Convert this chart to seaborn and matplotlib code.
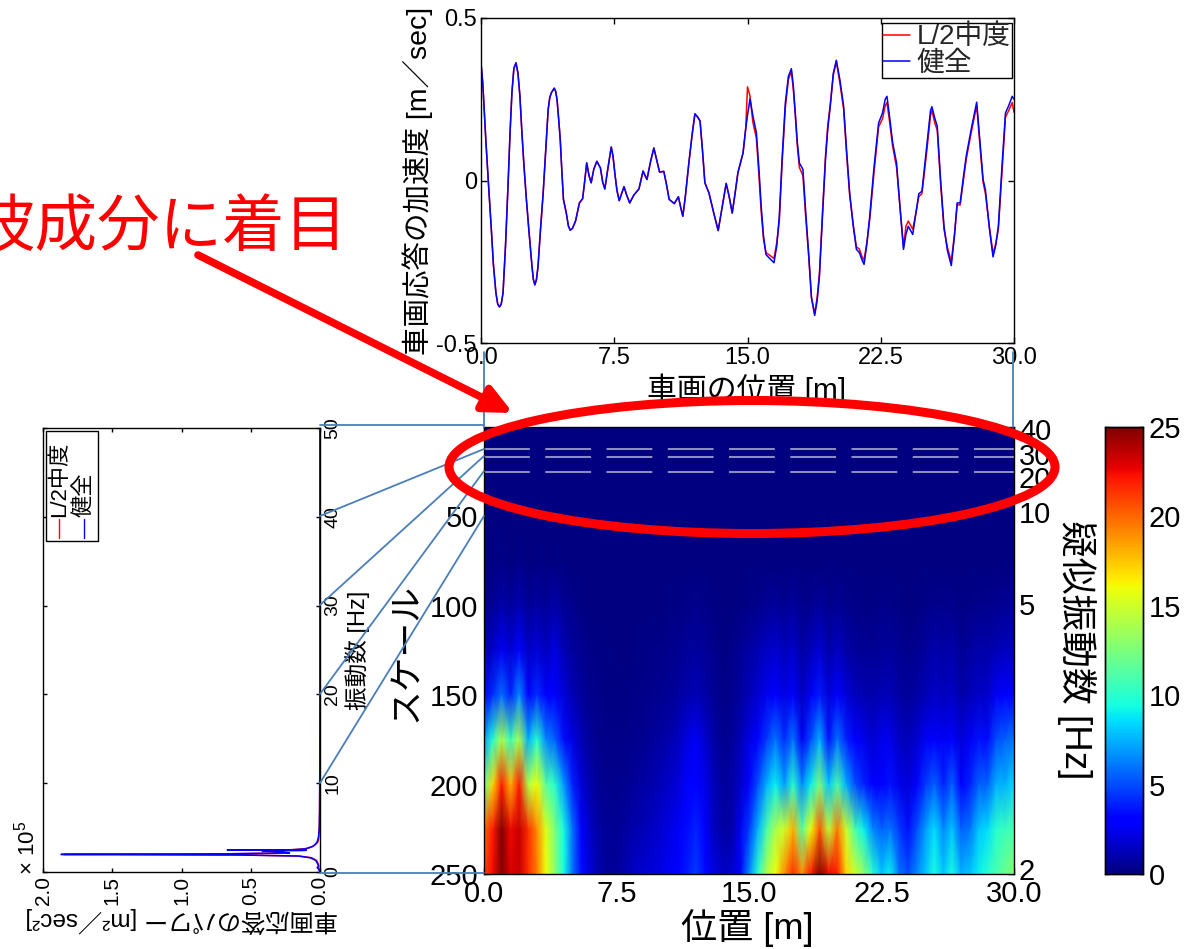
import numpy as np
import pandas as pd
import matplotlib
matplotlib.use('Agg')
import matplotlib.pyplot as plt
import matplotlib.patches as mpatches
from matplotlib.lines import Line2D
from matplotlib.transforms import Affine2D
import seaborn as sns

# acceleration trace, top panel (both cases coincide up to about 15 m)
position = [0, .1, .27, .42, .57, .7, .84, .94, 1.04, 1.14, 1.24, 1.38, 1.52, 1.63, 1.74, 1.85, 1.97, 2.08, 2.19, 2.3,
            2.42, 2.55, 2.69, 2.87, 2.95, 3.03, 3.12, 3.21, 3.35, 3.5, 3.64, 3.78, 3.87, 3.96, 4.12, 4.2, 4.28, 4.37, 4.46, 4.55,
            4.64, 4.8, 4.92, 5.02, 5.15, 5.32, 5.44, 5.54, 5.72, 5.82, 5.95, 6.08, 6.2, 6.35, 6.52, 6.72, 6.85, 6.97, 7.15, 7.33,
            7.43, 7.53, 7.65, 7.78, 7.92, 8.05, 8.2, 8.37, 8.6, 8.89, 9.12, 9.34, 9.55, 9.73, 9.9, 10.05, 10.29, 10.45, 10.59, 10.88,
            11.11, 11.25, 11.36, 11.5, 11.7, 11.88, 12.04, 12.2, 12.33, 12.47, 12.6, 12.83, 13.1, 13.35, 13.55, 13.8, 13.97, 14.14, 14.3, 14.46,
            14.75, 14.9,
            15.0, 15.14, 15.3, 15.5, 15.65, 15.77, 15.9, 16.04, 16.25, 16.49, 16.65, 16.79, 16.95, 17.13, 17.3, 17.47, 17.58, 17.69, 17.8, 17.92,
            18.12, 18.28, 18.44, 18.6, 18.78, 18.92, 19.05, 19.22, 19.39, 19.52, 19.66, 19.83, 20.0, 20.2, 20.41, 20.58, 20.75, 20.95, 21.13, 21.29,
            21.45, 21.56, 21.72, 21.88, 22.12, 22.38, 22.6, 22.75, 22.85, 23.0, 23.17, 23.39, 23.58, 23.78, 23.92, 24.05, 24.3, 24.48, 24.64, 24.82,
            25.1, 25.3, 25.38, 25.55, 25.68, 25.87, 26.06, 26.25, 26.47, 26.65, 26.8, 26.97, 27.15, 27.31, 27.6, 27.9, 28.08, 28.26, 28.39, 28.62,
            28.82, 28.97, 29.12, 29.32, 29.52, 29.7, 29.9, 30]
both_before_15 = [.362, .3, .126, -.01, -.14, -.26, -.346, -.38, -.389, -.38, -.346, -.2, -.017, .14, .27, .345, .362, .33, .26, .15,
                  .044, -.055, -.15, -.264, -.305, -.321, -.305, -.264, -.15, -.038, .09, .218, .255, .27, .284, .275, .249, .19, .126, .03,
                  -.058, -.1, -.14, -.153, -.147, -.125, -.095, -.069, -.056, -.01, .054, .015, -.007, .035, .059, .039, -.005, -.026, .04, .103,
                  .075, .024, -.03, -.062, -.04, -.019, -.045, -.069, -.045, -.026, .029, .003, .06, .1, .06, .026, .028, -.015, -.058, -.071,
                  -.05, -.085, -.11, -.05, .054, .14, .205, .195, .183, .09, -.007, -.038, -.1, -.154, -.09, -.009, -.05, -.1, -.04, .024,
                  .085, .16]
healthy_after_15 = [.2, .251, .2, .147, .03, -.079, -.17, -.228, -.24, -.253, -.2, -.11, .07, .239, .32, .344, .29, .208, .12, .054,
                    .034, -.1, -.223, -.36, -.415, -.37, -.294, -.11, .065, .16, .229, .33, .37, .31, .229, .09, -.038, -.14, -.212, -.221,
                    -.245, -.258, -.195, -.11, .04, .177, .208, .25, .259, .195, .116, .054, -.08, -.212, -.165, -.141, -.166, -.1, -.041, -.033,
                    .11, .215, .227, .19, .167, 0, -.141, -.215, -.262, -.17, -.069, -.069, .01, .075, .16, .241, .12, .003, -.028, -.15,
                    -.235, -.2, -.14, .04, .208, .23, .259, .25]
damaged_after_15 = [.288, .26, .18, .13, .01, -.095, -.18, -.222, -.23, -.24, -.19, -.125, .055, .225, .31, .336, .28, .2, .11, .04,
                    .015, -.115, -.23, -.36, -.41, -.36, -.285, -.1, .075, .17, .235, .325, .365, .3, .22, .08, -.045, -.135, -.205, -.21,
                    -.235, -.245, -.19, -.12, .025, .165, .19, .23, .24, .18, .105, .04, -.08, -.205, -.14, -.125, -.15, -.1, -.05, -.04,
                    .095, .2, .215, .175, .155, -.01, -.15, -.205, -.25, -.165, -.075, -.075, 0, .065, .15, .23, .11, -.005, -.04, -.145,
                    -.225, -.195, -.15, .025, .195, .215, .24, .21]
healthy = both_before_15 + healthy_after_15
damaged = both_before_15 + damaged_after_15

# power spectrum, left panel
freq_hz = [0, .3, .5, .7, 1.0, 1.3, 1.6, 1.8, 1.92, 1.98, 2.04, 2.15, 2.3, 2.4, 2.44, 2.47, 2.5, 2.6, 2.75, 2.9, 3.2, 3.4, 3.7, 4, 5, 7, 10, 20, 30, 40, 50]
power_healthy = [0, .01, .02, .01, .02, .03, .07, .16, .6, 1.87, .7, .22, .3, .42, .1, .67, .2, .1, .08, .05, .03, .02, .015, .01, .005, .003, .002, 0, 0, 0, 0]
power_damaged = [0, .005, .01, .01, .015, .025, .06, .15, .6, 1.85, .7, .23, .33, .4, .12, .42, .22, .12, .07, .05, .025, .015, .01, .01, .005, .003, .002, 0, 0, 0, 0]

# wavelet magnitude, one row per scale (0, 25, ... 250), columns every 0.5 m
scale_step = 25
position_step = 0.5
row_0 = [0.0] * 61
row_25 = [0.0] * 61
row_50 = [0.0] * 61
row_75 = [0, .05, .2, .05, .25, .05, .1, .05, .1, .05, 0, 0, 0, 0, 0, 0, 0, 0, 0, 0,
          0, 0, 0, 0, .05, 0, 0, 0, 0, 0, 0, 0, .03, .05, .05, .03, .05, .05, 0.05, .03,
          .05, 0, 0, 0, 0, 0, 0, 0, 0, 0, 0, .03, .03, 0, 0, 0, .03, .03, 0, .03, .03]
row_100 = [.2, .5, 1, .6, 1.2, .5, .8, .5, .9, .5, .3, .1, .05, .03, 0, 0, 0, .02, .03, .05,
           .07, .1, .15, .25, .3, .2, .1, .03, .05, .15, .25, .35, .5, .6, .45, .7, .3, .45, .7, .3,
           .5, .3, .2, .15, .15, .2, .25, .12, .08, .12, .25, .35, .3, .35, .15, .25, .35, .3, .4, .5, .5]
row_125 = [1, 1.6, 2.6, 1.8, 3.3, 1.5, 2, 1.4, 2.2, 1.2, .7, .4, .2, .1, .1, .05, .05, .1, .1, .2,
           .2, .3, .4, .6, .7, .5, .3, .1, .2, .5, .8, 1.1, 1.5, 1.8, 1.3, 1.7, .8, 1.3, 1.9, .9,
           1.5, .9, .6, .5, .5, .6, .7, .4, .3, .4, .7, 1, .8, 1, .5, .7, 1, .9, 1.2, 1.4, 1.6]
row_150 = [3, 4.2, 5.8, 4, 6.6, 3.2, 4.2, 2.8, 3, 2, 1.2, .7, .3, .2, .1, .1, .1, .2, .2, .3,
           .4, .5, .7, 1, 1.2, .9, .5, .2, .3, .7, 1.2, 1.8, 2.5, 3, 2.2, 2.8, 1.4, 2.6, 3.8, 2,
           3, 2, 1.4, 1.1, 1, 1.2, 1.2, .8, .6, .8, 1.2, 1.6, 1.3, 1.6, .9, 1.2, 1.6, 1.6, 2.6, 2.8, 3.2]
row_175 = [7, 10, 14, 10.5, 14, 7.5, 10, 6.5, 5.5, 3.5, 2.2, 1.2, .6, .3, .2, .2, .2, .3, .4, .6,
           .8, 1, 1.4, 2.2, 2.6, 1.8, .9, .4, .5, 1.2, 2.2, 3.2, 4.5, 6, 4.2, 6, 2.6, 5, 7.5, 3.6,
           6, 4, 2.8, 2.4, 1.8, 2.4, 2.4, 1.5, 1.3, 1.8, 2.6, 3.2, 2.6, 3.2, 2, 2.6, 3.6, 3.4, 5, 5.5, 6]
row_200 = [12, 17, 22, 18, 22, 14, 16, 11.5, 10, 7, 4, 2, 1, .5, .3, .3, .4, .6, .8, 1,
           1.3, 1.6, 2, 2.8, 3.2, 2.4, 1.3, .7, .8, 1.6, 3, 5, 7.5, 9, 7, 10, 6.5, 9, 12.5, 8,
           11, 7.5, 5, 4, 3, 3, 3.6, 2.4, 2, 3, 4.5, 5.5, 4, 5.5, 3.2, 4, 5.5, 5.5, 7.5, 7.5, 8.5]
row_225 = [20, 22, 25, 22.5, 23.5, 21.5, 19, 15.5, 12.5, 9.5, 6, 3, 1.6, .8, .5, .5, .7, 1, 1.2, 1.5,
           1.8, 2.2, 2.6, 3.4, 4, 2.8, 1.4, .8, .8, 2.5, 4.5, 7.5, 11, 14, 15, 18, 11.5, 16, 20.5, 14.5,
           19.5, 15, 11, 9, 6.5, 5.5, 6, 4.5, 3.5, 5, 7, 8.5, 6.5, 8, 5.5, 6, 8, 8.5, 10, 10.5, 11]
row_250 = [21, 22.5, 25, 23, 23.5, 21.5, 19.5, 16, 13, 9.5, 6, 3.5, 2, 1, .6, .6, 1, 1.6, 1.8, 2,
           2.2, 2.6, 3, 3.8, 4.5, 3.4, 2.2, 1.6, 1.8, 2.6, 6.5, 10, 14, 16, 19, 21.5, 19, 22, 25, 22.5,
           22, 17, 15, 13, 10, 8, 9, 6, 5, 6.5, 8, 9.5, 8, 9.5, 7.5, 8, 9, 10, 11, 12, 13]

scale_ticks = [50, 100, 150, 200, 250]
position_ticks = [0, 7.5, 15, 22.5, 30]
pseudo_freq = [40, 30, 20]
cbar_ticks = [0, 5, 10, 15, 20, 25]

W, H = 1185, 949
CJK = ['Liberation Sans', 'Noto Sans CJK JP']
LINK = '#4a7ebb'

sns.set_theme(style='ticks')
plt.rcParams['font.family'] = CJK
plt.rcParams['axes.unicode_minus'] = False
plt.rcParams['mathtext.default'] = 'regular'
plt.rcParams['mathtext.fontset'] = 'custom'
plt.rcParams['mathtext.rm'] = 'Liberation Sans'
plt.rcParams['axes.linewidth'] = 1.0
plt.rcParams['axes.edgecolor'] = 'black'
plt.rcParams['xtick.color'] = 'black'
plt.rcParams['ytick.color'] = 'black'


def box(l, t, r, b):
    return [l / W, 1 - b / H, (r - l) / W, (b - t) / H]


def ftext(x, y, s, **kw):
    kw.setdefault('ha', 'center')
    kw.setdefault('va', 'center')
    kw.setdefault('color', 'black')
    return fig.text(x / W, 1 - y / H, s, **kw)


fig = plt.figure(figsize=(W / 100, H / 100), dpi=100)
pix = Affine2D().scale(1, -1).translate(0, H)

# top panel
ax_top = fig.add_axes(box(481, 18, 1014, 343))
sns.lineplot(x=position, y=damaged, color='#ff0000', lw=1.1, label='L/2中度', estimator=None, ax=ax_top)
sns.lineplot(x=position, y=healthy, color='#0000ff', lw=1.1, label='健全', estimator=None, ax=ax_top)
ax_top.set_xlim(0, 30)
ax_top.set_ylim(-0.5, 0.5)
ax_top.set_xticks(position_ticks, ['%.1f' % p for p in position_ticks])
ax_top.set_yticks([-0.5, 0, 0.5], ['-0.5', '0', '0.5'])
ax_top.tick_params(direction='in', length=4, width=1, top=True, right=True, labelsize=17, pad=3)
ax_top.legend(loc='upper right', bbox_to_anchor=(0.996, 0.985), fontsize=20, frameon=True, fancybox=False, framealpha=1,
              edgecolor='black', handlelength=0.95, handletextpad=0.25, labelspacing=0.02, borderpad=0.05, borderaxespad=0)

# left panel, drawn sideways
ax_left = fig.add_axes(box(43, 428, 320, 872))
sns.lineplot(x=power_damaged, y=freq_hz, orient='y', sort=False, estimator=None, color='#ff0000', lw=1.1, ax=ax_left)
sns.lineplot(x=power_healthy, y=freq_hz, orient='y', sort=False, estimator=None, color='#0000ff', lw=1.1, ax=ax_left)
ax_left.set_xlim(2, 0)
ax_left.set_ylim(0, 50)
ax_left.set_xticks([2, 1.5, 1, 0.5, 0], ['2.0', '1.5', '1.0', '0.5', '0.0'])
ax_left.set_yticks([0, 10, 20, 30, 40, 50])
ax_left.tick_params(direction='in', length=3, width=1, top=True, right=True, left=True,
                    labelright=True, labelleft=False, labelsize=15, pad=3)
ax_left.tick_params(axis='x', labelrotation=90)
ax_left.tick_params(axis='y', labelrotation=90, labelsize=14)
for lab in ax_left.get_yticklabels():
    lab.set_va('center')

# left panel legend box
fig.add_artist(mpatches.Rectangle((46, 431), 52, 110, transform=pix, fc='white', ec='black', lw=1, zorder=3))
fig.add_artist(Line2D([59, 59], [519, 538], transform=pix, color='#ff0000', lw=1, zorder=4))
fig.add_artist(Line2D([84, 84], [519, 538], transform=pix, color='#0000ff', lw=1, zorder=4))
ftext(60, 517, 'L/2中度', rotation=90, va='bottom', fontsize=16, zorder=4)
ftext(84, 517, '健全', rotation=90, va='bottom', fontsize=16, zorder=4)

# scalogram
rows = [row_0, row_25, row_50, row_75, row_100, row_125, row_150, row_175, row_200, row_225, row_250]
ax_map = fig.add_axes(box(484, 427, 1014, 874))
ax_cbar = fig.add_axes(box(1105, 427, 1143, 874))
sns.heatmap(np.array(rows, dtype=float), cmap='jet', vmin=0, vmax=25, shading='gouraud', ax=ax_map, cbar_ax=ax_cbar,
            xticklabels=False, yticklabels=False, cbar_kws={'ticks': cbar_ticks})
ax_map.set_xlim(0, len(row_0) - 1)
ax_map.set_ylim(len(rows) - 1, 0)
ax_map.set_xticks([p / position_step for p in position_ticks], ['%.1f' % p for p in position_ticks])
ax_map.set_yticks([s / scale_step for s in scale_ticks], [str(s) for s in scale_ticks])
ax_map.tick_params(direction='in', length=4, width=1, top=True, right=True, labelsize=21, pad=4, colors='black')
ax_map.tick_params(axis='y', labelrotation=0)
for s in ax_map.spines.values():
    s.set_visible(True)
    s.set_color('black')
    s.set_linewidth(1.0)
for f in pseudo_freq:
    ax_map.plot([0, len(row_0) - 1], [500 / f / scale_step] * 2, color='white', alpha=0.55, lw=1.5, dashes=(22, 7.4))

ax_cbar.tick_params(direction='in', length=3, width=1, left=True, right=True, labelsize=21, pad=4, colors='black')
for s in ax_cbar.spines.values():
    s.set_visible(True)
    s.set_color('black')
    s.set_linewidth(1.0)

# right hand pseudo frequency labels, nudged apart as in the figure
for lab, y in [('40', 432), ('30', 457), ('20', 480), ('10', 515), ('5', 607), ('2', 872)]:
    ftext(1019, y, lab, ha='left', fontsize=21)

# axis titles
ftext(418, 181, '車画応答の加速度 [m／sec]', rotation=90, fontsize=20.5)
ftext(747, 389, '車画の位置 [m]', fontsize=21.5)
ftext(747, 928, '位置 [m]', fontsize=26)
ftext(406, 652, 'スケール', rotation=90, fontsize=25)
ftext(1076, 650, '疑似振動数 [Hz]', rotation=-90, fontsize=26.5)
ftext(358, 650, '振動数 [Hz]', rotation=90, fontsize=17)
ftext(182, 920, '車画応答のパワー [m²／sec²]', rotation=180, fontsize=17.5)
ftext(27, 848, '× 10$^5$', rotation=90, fontsize=16)

# link lines between panels
links = [((484, 352), (484, 427)), ((1013, 352), (1013, 427)), ((320, 425), (484, 425)), ((320, 873), (484, 873)),
         ((320, 516), (484, 449)), ((320, 605), (484, 456)), ((320, 694), (484, 471)), ((320, 783), (484, 516))]
for a, b in links:
    fig.add_artist(Line2D([a[0], b[0]], [a[1], b[1]], transform=pix, color=LINK, lw=1.3, zorder=5))

# red call-out
fig.add_artist(mpatches.Ellipse((752, 467), 606, 133, transform=pix, fc='none', ec='#ff0000', lw=6.5, zorder=6))
fig.add_artist(mpatches.FancyArrowPatch((198, 255), (513, 413), transform=pix, color='#ff0000', lw=5.5, zorder=6,
                                        arrowstyle='-|>,head_length=17,head_width=8', shrinkA=0, shrinkB=0))
ftext(-27, 229, '波成分に着目', ha='left', color='#ff0000', fontsize=45, zorder=6)

fig.savefig('out.png', dpi=100)
